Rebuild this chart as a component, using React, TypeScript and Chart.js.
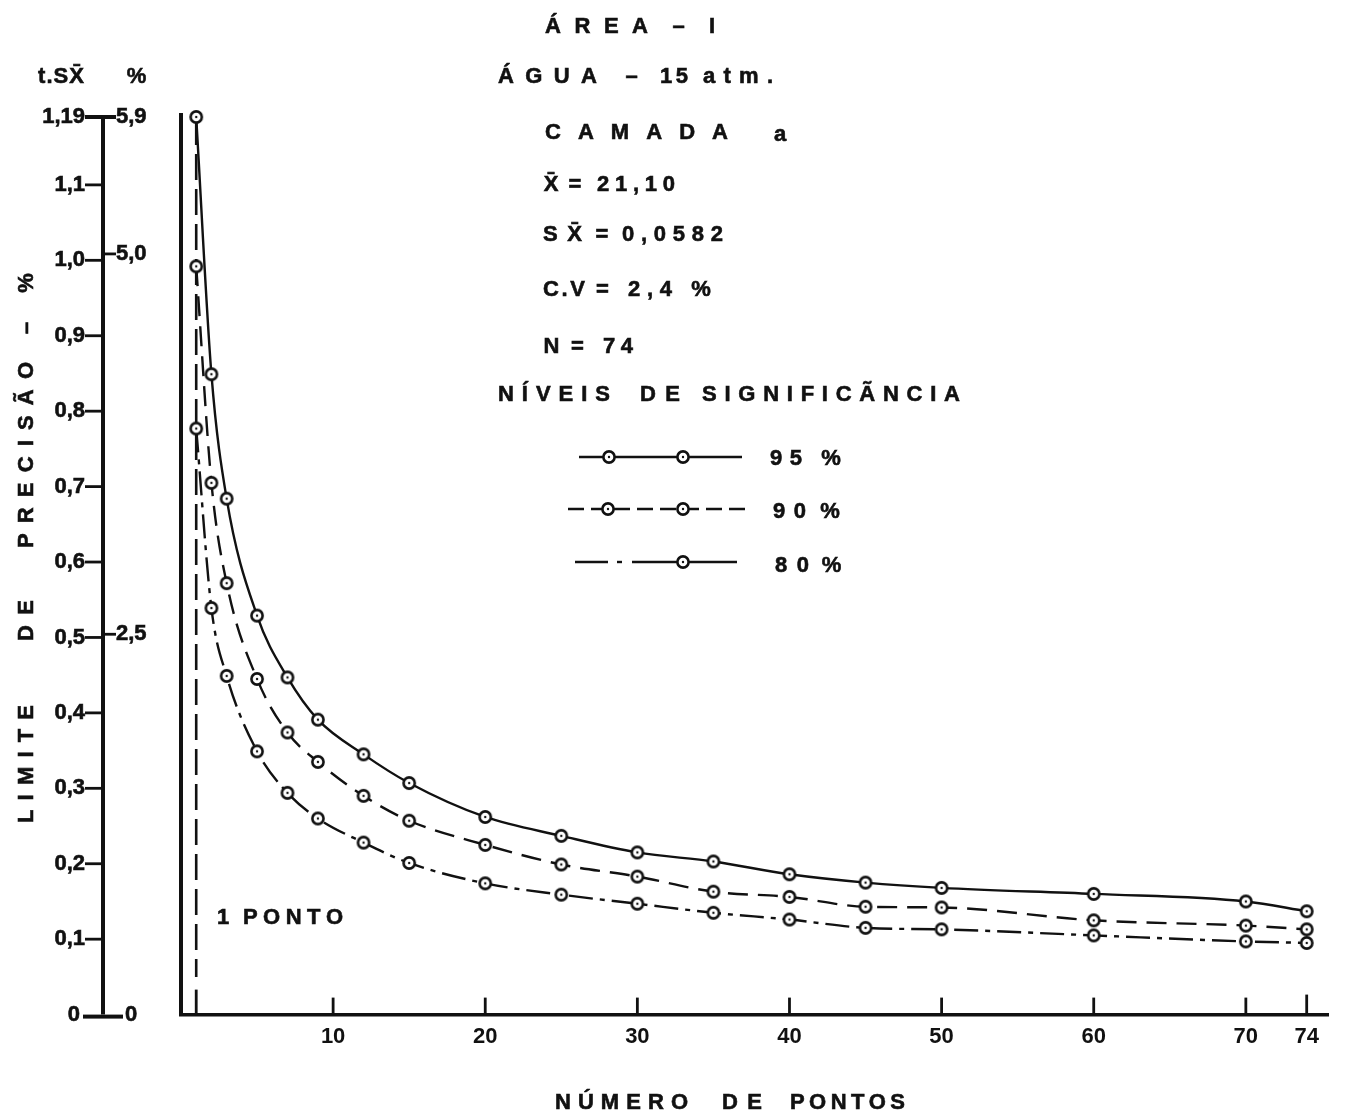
import { useEffect, useRef } from 'react';
import { Chart, registerables } from 'chart.js';

Chart.register(...registerables);

// Número de pontos (tamanho da amostra)
const pontos = [1, 2, 3, 5, 7, 9, 12, 15, 20, 25, 30, 35, 40, 45, 50, 60, 70, 74];
// Limite de precisão t.Sx̄ por nível de significância
const nivel95 = [1.19, 0.849, 0.684, 0.529, 0.447, 0.391, 0.345, 0.307, 0.262, 0.237, 0.215, 0.203, 0.186, 0.175, 0.168, 0.16, 0.15, 0.137];
const nivel90 = [0.992, 0.705, 0.572, 0.445, 0.374, 0.335, 0.29, 0.257, 0.225, 0.199, 0.183, 0.163, 0.156, 0.143, 0.142, 0.125, 0.118, 0.113];
const nivel80 = [0.777, 0.539, 0.449, 0.349, 0.294, 0.26, 0.228, 0.201, 0.174, 0.159, 0.147, 0.135, 0.126, 0.115, 0.113, 0.105, 0.097, 0.095];

// Eixo horizontal
const xTicks = [1, 10, 20, 30, 40, 50, 60, 70, 74];
const X_MAX = 75.44;

// Eixo vertical: t.Sx̄ à esquerda, % à direita
const TSX_MAX = 1.19;
const PCT_MAX = 5.9;
const tsxTicks = [0, 0.1, 0.2, 0.3, 0.4, 0.5, 0.6, 0.7, 0.8, 0.9, 1.0, 1.1, 1.19];
const tsxLabels = ['0', '0,1', '0,2', '0,3', '0,4', '0,5', '0,6', '0,7', '0,8', '0,9', '1,0', '1,1', '1,19'];
const pctTicks = [0, 2.5, 5.0, 5.9];
const pctLabels = ['0', '2,5', '5,0', '5,9'];

const INK = '#111';
const FAMILY = '"Liberation Sans", Arial, sans-serif';
const FONT = `bold 22px ${FAMILY}`;
const OFF = 8; // body margin

type Piece = [string, number, number, number];

// Textos do quadro (posições na página)
const cabecalho: Piece[] = [
  ['ÁREA', 545, 648, 27], ['–', 672, 685, 27], ['I', 709, 715, 27],
  ['ÁGUA', 498, 597, 77], ['–', 622, 641, 77], ['15', 660, 688, 77], ['atm.', 703, 773, 77],
  ['CAMADA', 545, 728, 133], ['a', 773, 787, 135],
  ['X̄', 545, 557, 185], ['=', 570, 580, 185], ['21,10', 597, 675, 185],
  ['SX̄', 543, 582, 235], ['=', 597, 607, 235], ['0,0582', 622, 723, 235],
  ['C.V', 543, 585, 290], ['=', 598, 607, 290], ['2,4', 628, 672, 290], ['%', 690, 712, 290],
  ['N', 545, 558, 347], ['=', 573, 582, 347], ['74', 603, 633, 347],
  ['NÍVEIS', 498, 610, 395], ['DE', 640, 680, 395], ['SIGNIFICÃNCIA', 702, 960, 395],
  ['95', 770, 802, 459], ['%', 817, 845, 459],
  ['90', 773, 806, 512], ['%', 817, 843, 512],
  ['80', 775, 809, 566], ['%', 818, 845, 566],
  ['t.SX̄', 38, 84, 77], ['%', 124, 149, 77],
  ['1', 220, 226, 918], ['PONTO', 243, 343, 918],
  ['NÚMERO', 555, 688, 1103], ['DE', 722, 762, 1103], ['PONTOS', 790, 905, 1103],
];

// Título do eixo vertical (ao longo do eixo, de baixo para cima)
const tituloY: [string, number, number][] = [
  ['LIMITE', 823, 705], ['DE', 641, 600], ['PRECISÃO', 548, 362], ['–', 333, 323], ['%', 293, 273],
];

function clusters(text: string): string[] {
  return text.match(/[^\u0300-\u036f][\u0300-\u036f]*/g) || [];
}

function ink(ctx: CanvasRenderingContext2D, t: string, x: number, y: number) {
  ctx.fillText(t, x, y);
  ctx.strokeText(t, x, y);
}

function spaced(ctx: CanvasRenderingContext2D, text: string, x0: number, x1: number, y: number) {
  const parts = clusters(text);
  ctx.textBaseline = 'middle';
  if (parts.length === 1) {
    ctx.textAlign = 'center';
    ink(ctx, parts[0], (x0 + x1) / 2, y);
    return;
  }
  ctx.textAlign = 'left';
  const widths = parts.map((p) => ctx.measureText(p).width);
  const total = widths.reduce((a, b) => a + b, 0);
  const gap = (x1 - x0 - total) / (parts.length - 1);
  let x = x0;
  parts.forEach((p, i) => {
    ink(ctx, p, x, y);
    x += widths[i] + gap;
  });
}

function seg(ctx: CanvasRenderingContext2D, x1: number, y1: number, x2: number, y2: number, w: number) {
  ctx.lineWidth = w;
  ctx.beginPath();
  ctx.moveTo(x1, y1);
  ctx.lineTo(x2, y2);
  ctx.stroke();
}

function makeMarker(): HTMLCanvasElement {
  const c = document.createElement('canvas');
  c.width = 16;
  c.height = 16;
  const g = c.getContext('2d')!;
  g.beginPath();
  g.arc(8, 8, 5.6, 0, Math.PI * 2);
  g.fillStyle = '#fff';
  g.fill();
  g.lineWidth = 2.6;
  g.strokeStyle = INK;
  g.stroke();
  g.beginPath();
  g.arc(8, 8, 1.2, 0, Math.PI * 2);
  g.fillStyle = INK;
  g.fill();
  return c;
}

const DASH_90 = [20, 10];
const DASH_80 = [24, 7, 5, 7];

export default function App() {
  const ref = useRef<HTMLCanvasElement | null>(null);

  useEffect(() => {
    if (!ref.current) return;
    const marker = makeMarker();

    const eixos = {
      id: 'eixos',
      beforeDatasetsDraw(chart: any) {
        const { ctx, chartArea, scales } = chart;
        const xs = scales.x;
        const ys = scales.y;
        ctx.save();
        ctx.strokeStyle = INK;
        ctx.fillStyle = INK;
        // eixo vertical do gráfico
        const x0 = xs.getPixelForValue(0);
        seg(ctx, x0, ys.getPixelForValue(TSX_MAX) - 4, x0, chartArea.bottom + 1.5, 4);
        // marcas do eixo horizontal
        xTicks.forEach((v) => {
          const px = xs.getPixelForValue(v);
          const h = v === 1 ? 25 : v === 74 ? 20 : 17;
          seg(ctx, px, chartArea.bottom, px, chartArea.bottom - h, 2.8);
        });
        // linha de 1 ponto
        const x1 = xs.getPixelForValue(1);
        ctx.setLineDash([26, 9]);
        seg(ctx, x1, ys.getPixelForValue(TSX_MAX) + 2, x1, ys.getPixelForValue(0.05), 2.6);
        ctx.setLineDash([]);

        // eixo de escala à esquerda
        const ax = 103 - OFF;
        seg(ctx, ax, ys.getPixelForValue(TSX_MAX), ax, ys.getPixelForValue(0), 4);
        ctx.font = FONT;
        ctx.lineWidth = 0.6;
        ctx.textBaseline = 'middle';
        tsxTicks.forEach((v, i) => {
          const py = ys.getPixelForValue(v);
          if (v === 0) {
            seg(ctx, ax - 20, py + 2, ax, py + 2, 4);
          } else if (v === TSX_MAX) {
            seg(ctx, ax - 18, py, ax, py, 4);
          } else {
            seg(ctx, ax - 18, py, ax, py, 2.8);
          }
          ctx.textAlign = 'right';
          ctx.lineWidth = 0.6;
          ink(ctx, tsxLabels[i], v === 0 ? 80 - OFF : 85 - OFF, py);
        });
        pctTicks.forEach((p, i) => {
          const py = ys.getPixelForValue((p / PCT_MAX) * TSX_MAX);
          if (p === 0) {
            seg(ctx, ax, py + 2, ax + 20, py + 2, 4);
          } else {
            seg(ctx, ax, py, ax + 13, py, p === PCT_MAX ? 4 : 2.8);
          }
          ctx.textAlign = 'left';
          ctx.lineWidth = 0.6;
          ink(ctx, pctLabels[i], p === 0 ? 125 - OFF : 116 - OFF, py);
        });
        ctx.restore();
      },
      afterDraw(chart: any) {
        const { ctx } = chart;
        ctx.save();
        ctx.translate(-OFF, -OFF);
        ctx.fillStyle = INK;
        ctx.strokeStyle = INK;
        ctx.font = FONT;
        ctx.lineWidth = 0.6;
        cabecalho.forEach(([t, a, b, y]) => spaced(ctx, t, a, b, y));

        // título vertical
        ctx.save();
        ctx.translate(27, 0);
        ctx.rotate(-Math.PI / 2);
        tituloY.forEach(([t, a, b]) => spaced(ctx, t, -a, -b, 0));
        ctx.restore();

        // legenda
        ctx.lineCap = 'butt';
        seg(ctx, 579, 457, 742, 457, 2.4);
        ctx.setLineDash([16, 7]);
        seg(ctx, 568, 509, 750, 509, 2.4);
        ctx.setLineDash([]);
        seg(ctx, 575, 562, 608, 562, 2.4);
        seg(ctx, 617, 562, 622, 562, 2.4);
        seg(ctx, 632, 562, 737, 562, 2.4);
        const m = (x: number, y: number) => ctx.drawImage(marker, x - 8, y - 8);
        m(609, 457); m(683, 457);
        m(608, 509); m(683, 509);
        m(683, 562);
        ctx.restore();
      },
    };

    const serie = (data: number[], dash: number[]) => ({
      data: pontos.map((x, i) => ({ x, y: data[i] })),
      borderColor: INK,
      borderWidth: 2.4,
      borderDash: dash,
      pointStyle: marker,
      pointRadius: 7,
      cubicInterpolationMode: 'monotone' as const,
      fill: false,
      clip: false as any,
    });

    const chart = new Chart(ref.current, {
      type: 'line',
      data: {
        datasets: [
          { label: '95 %', ...serie(nivel95, []) },
          { label: '90 %', ...serie(nivel90, DASH_90) },
          { label: '80 %', ...serie(nivel80, DASH_80) },
        ],
      },
      options: {
        responsive: false,
        animation: false,
        layout: { padding: { left: 173, top: 109, right: 5, bottom: 51 } },
        plugins: { legend: { display: false }, tooltip: { enabled: false } },
        scales: {
          x: {
            type: 'linear',
            min: 0,
            max: X_MAX,
            grid: { display: false, drawTicks: false },
            border: { display: true, width: 3.5, color: INK },
            afterBuildTicks: (scale: any) => {
              scale.ticks = xTicks.map((value) => ({ value }));
            },
            ticks: {
              autoSkip: false,
              maxRotation: 0,
              padding: 9,
              color: INK,
              font: { family: FAMILY, size: 22, weight: 'bold' },
              callback: (v: any) => (v === 1 ? '' : String(v)),
            },
          },
          y: {
            type: 'linear',
            display: false,
            min: 0,
            max: TSX_MAX,
          },
        },
      },
      plugins: [eixos],
    });
    return () => chart.destroy();
  }, []);

  return (
    <div style={{ width: 1330, height: 1102, background: '#fff' }}>
      <canvas ref={ref} width={1330} height={1102} style={{ display: 'block' }} />
    </div>
  );
}
